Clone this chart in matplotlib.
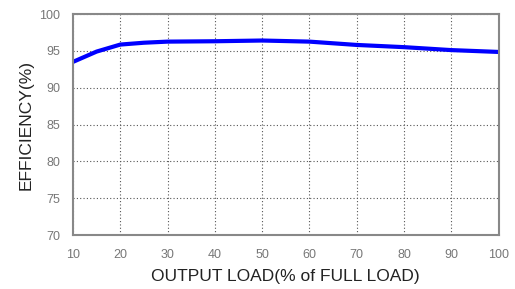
import matplotlib.pyplot as plt

# efficiency curve
load = [10, 15, 20, 25, 30, 40, 50, 60, 70, 80, 90, 100]
efficiency = [93.5, 94.9, 95.85, 96.1, 96.25, 96.3, 96.4, 96.25, 95.8, 95.5, 95.1, 94.85]

x_ticks = [10, 20, 30, 40, 50, 60, 70, 80, 90, 100]
y_ticks = [70, 75, 80, 85, 90, 95, 100]

plt.rcParams['font.family'] = ['Liberation Sans', 'DejaVu Sans']

fig = plt.figure(figsize=(5.15, 2.89), dpi=100)
ax = fig.add_axes([73 / 515, 1 - 235 / 289, (498.5 - 73) / 515, (235 - 14) / 289])

ax.plot(load, efficiency, color="#0000ff", linewidth=3, solid_capstyle="butt")

ax.set_xlim(10, 100)
ax.set_ylim(70, 100)
ax.set_xticks(x_ticks)
ax.set_yticks(y_ticks)
ax.tick_params(length=0, labelsize=9, labelcolor="#777777")
ax.tick_params(axis="x", pad=10)
ax.tick_params(axis="y", pad=9)
ax.grid(True, color="#555555", linestyle=(0, (1, 2)), linewidth=0.8)

for s in ax.spines.values():
    s.set_color("#888888")
    s.set_linewidth(1.5)

ax.set_xlabel("OUTPUT LOAD(% of FULL LOAD)", fontsize=12.5, color="#222222", labelpad=6)
ax.set_ylabel("EFFICIENCY(%)", fontsize=12.5, color="#222222", labelpad=4)

fig.savefig("out.png", dpi=100)
